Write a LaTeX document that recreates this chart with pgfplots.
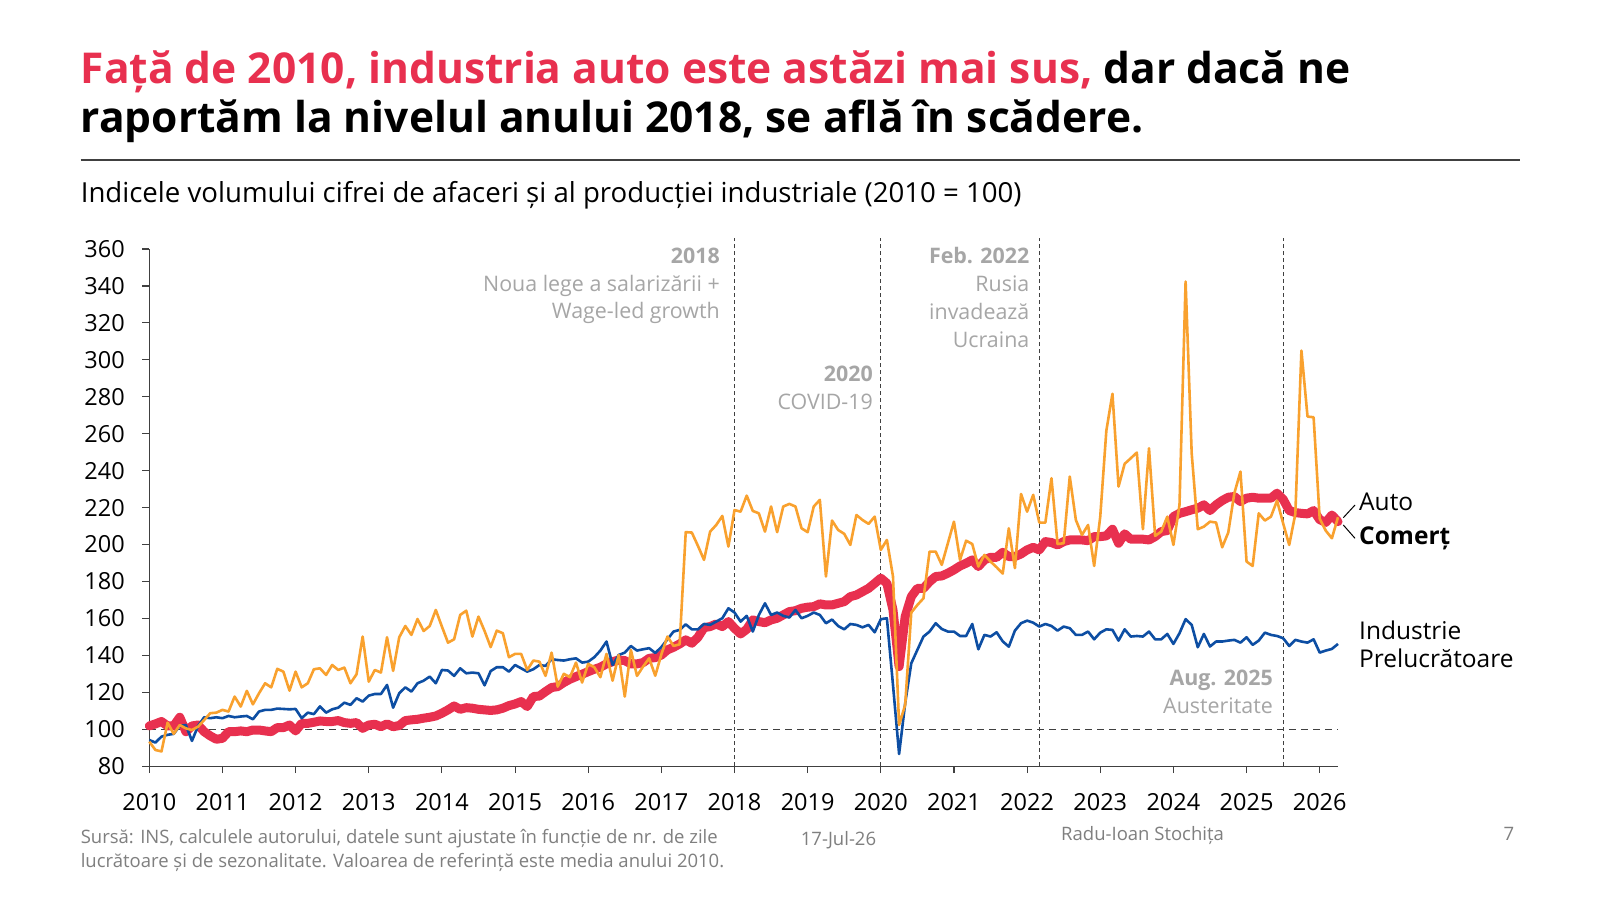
\documentclass[border=0pt]{standalone}
\usepackage{fontspec}
\setmainfont{Open Sans}
\usepackage{pgfplots}
\pgfplotsset{compat=1.18}
\usepackage{pgfplotstable}
\definecolor{cred}{HTML}{E8304F}
\definecolor{corange}{HTML}{F9A12E}
\definecolor{cblue}{HTML}{0D4EA3}
\definecolor{cgrey}{HTML}{A6A6A6}
\definecolor{cfoot}{HTML}{7F7F7F}
\definecolor{caxis}{HTML}{404040}
\newcommand{\fs}[1]{\fontsize{#1}{#1}\selectfont}

\pgfplotstableread{
m auto comert ind
0 93.3 101.8 94.2
1 88.8 102.9 92.8
2 88.0 104.2 96.0
3 103.6 101.8 97.0
4 97.5 101.8 97.5
5 102.3 106.5 101.8
6 100.5 98.7 102.3
7 99.6 101.8 93.7
8 101.4 102.3 101.8
9 105.0 98.7 106.5
10 108.7 96.4 106.0
11 109.0 94.6 106.5
12 110.5 95.1 106.0
13 109.6 98.7 107.2
14 117.7 98.7 106.5
15 112.3 99.1 106.9
16 120.8 98.7 107.2
17 113.5 99.6 105.4
18 119.5 99.6 109.6
19 124.9 99.1 110.5
20 122.7 98.7 110.5
21 132.7 100.9 111.2
22 131.2 100.9 111.0
23 120.9 102.3 110.8
24 131.2 99.1 111.0
25 122.7 103.2 106.0
26 124.9 103.2 109.0
27 132.5 103.8 108.2
28 133.0 104.5 112.4
29 129.4 104.2 109.0
30 134.8 104.2 110.8
31 132.1 104.7 111.7
32 133.4 103.6 114.4
33 124.9 103.2 113.2
34 129.8 103.6 116.8
35 150.2 100.5 115.0
36 125.8 102.3 118.2
37 132.1 102.7 119.1
38 130.7 101.4 119.1
39 149.8 102.9 124.0
40 131.6 101.4 111.7
41 149.8 102.0 119.5
42 155.9 104.7 122.7
43 151.1 105.1 120.4
44 159.7 105.4 124.9
45 153.2 106.0 126.3
46 155.9 106.5 128.5
47 164.6 107.2 124.9
48 155.6 108.7 132.1
49 146.9 110.5 131.8
50 148.7 112.6 128.9
51 161.9 110.8 133.0
52 164.2 111.7 130.3
53 150.2 111.4 130.7
54 161.0 110.8 130.3
55 153.2 110.5 123.8
56 144.5 110.2 131.5
57 153.4 110.5 133.6
58 152.0 111.4 133.6
59 139.0 112.8 131.2
60 140.8 113.7 134.8
61 140.8 115.0 133.0
62 132.1 112.3 131.2
63 137.2 117.7 132.5
64 136.6 118.0 134.8
65 128.9 120.4 134.3
66 141.5 122.6 137.9
67 123.1 123.1 137.5
68 130.0 125.3 137.2
69 128.2 127.1 137.9
70 136.1 128.5 138.4
71 125.3 129.8 136.1
72 135.4 131.2 136.6
73 133.6 132.5 139.0
74 128.2 133.6 142.6
75 140.8 135.4 147.5
76 126.3 136.6 134.8
77 140.2 137.5 140.2
78 117.7 137.2 141.5
79 143.0 135.4 145.1
80 128.9 135.4 142.6
81 133.9 136.1 143.3
82 138.4 138.4 143.9
83 129.0 138.8 141.3
84 140.5 140.2 144.5
85 150.2 143.0 148.7
86 145.1 144.4 152.9
87 146.0 146.2 153.8
88 206.7 148.4 156.8
89 206.5 146.6 154.1
90 199.3 149.8 154.1
91 191.7 155.0 157.0
92 207.0 155.6 156.5
93 210.6 157.0 158.3
94 215.5 155.6 160.1
95 198.9 158.3 165.5
96 218.7 154.7 163.2
97 217.8 151.6 158.3
98 226.5 154.1 161.4
99 218.2 159.2 152.9
100 216.9 158.3 161.9
101 207.0 157.7 168.2
102 220.6 159.2 161.9
103 206.7 160.1 163.2
104 220.6 161.9 161.4
105 222.0 163.7 160.5
106 220.6 164.2 164.6
107 208.8 165.5 160.1
108 206.7 166.1 161.4
109 220.6 166.4 163.2
110 224.2 167.9 161.9
111 182.7 167.3 157.4
112 213.0 167.3 159.4
113 207.9 168.2 155.9
114 205.8 169.1 154.1
115 199.8 171.8 157.0
116 216.0 172.7 156.5
117 213.3 174.5 155.2
118 211.2 176.3 156.5
119 215.1 179.0 152.5
120 197.1 181.8 159.6
121 202.5 179.0 160.1
122 182.7 164.6 124.0
123 102.3 133.9 86.6
124 113.2 161.0 114.1
125 163.2 171.8 135.7
126 167.3 176.3 143.0
127 170.9 176.3 150.2
128 196.2 179.9 152.9
129 196.2 182.7 157.4
130 189.0 183.0 154.3
131 200.7 184.5 152.9
132 212.4 186.3 152.9
133 191.7 188.4 150.5
134 202.1 189.9 150.5
135 200.3 191.7 157.0
136 188.1 188.1 143.3
137 194.4 191.7 151.1
138 190.8 193.1 150.2
139 187.7 193.1 152.5
140 184.3 195.8 147.6
141 208.8 193.5 144.7
142 187.2 193.5 153.4
143 227.4 194.9 157.4
144 217.8 197.1 158.8
145 226.9 198.5 157.7
146 211.9 197.1 155.6
147 211.9 201.6 157.0
148 235.9 201.1 155.9
149 200.3 199.8 153.4
150 200.7 201.6 155.6
151 236.8 202.5 154.7
152 213.3 202.5 151.1
153 205.2 202.5 151.1
154 210.6 202.1 152.9
155 188.4 204.3 148.7
156 215.1 204.3 152.3
157 261.7 204.7 154.1
158 281.6 208.3 153.8
159 231.4 200.7 148.0
160 243.7 205.8 154.1
161 246.7 202.9 150.2
162 249.8 202.9 150.5
163 208.3 202.9 150.2
164 252.1 202.5 152.9
165 204.7 204.3 148.7
166 207.0 207.0 148.7
167 215.1 207.6 151.6
168 199.8 215.1 146.2
169 221.5 216.9 152.0
170 342.4 217.8 159.6
171 249.4 218.8 156.5
172 208.3 219.7 144.4
173 209.7 221.5 151.6
174 212.4 218.4 144.8
175 211.9 221.5 147.5
176 198.5 223.8 147.5
177 206.5 225.6 148.0
178 227.8 226.0 148.4
179 239.5 223.3 146.9
180 190.8 225.1 149.8
181 188.4 225.6 145.7
182 216.9 225.1 148.0
183 213.0 225.1 152.3
184 215.1 225.1 151.1
185 223.8 227.8 150.5
186 211.5 224.5 149.3
187 199.8 218.4 145.1
188 216.6 217.3 148.4
189 305.0 216.9 147.5
190 269.3 216.6 146.9
191 268.9 218.4 148.7
192 214.0 213.5 141.5
193 207.5 212.0 142.6
194 203.4 216.0 143.5
195 214.8 212.4 146.2
}\datatab

\begin{document}
\begin{tikzpicture}
\path[use as bounding box, fill=white] (0pt,0pt) rectangle (1600pt,-900pt);

% title
\node[anchor=base west, inner sep=0pt, font=\bfseries\fs{42.5}] at (80.6pt,-83.7pt)
  {\textcolor{cred}{Față de 2010, industria auto este astăzi mai sus,} dar dacă ne};
\node[anchor=base west, inner sep=0pt, font=\bfseries\fs{42.5}] at (80.6pt,-132.6pt)
  {raportăm la nivelul anului 2018, se află în scădere.};
\draw[line width=1.3pt, caxis] (80.6pt,-160pt) -- (1520pt,-160pt);
\node[anchor=base west, inner sep=0pt, font=\fs{27.6}] at (80.6pt,-202pt)
  {Indicele volumului cifrei de afaceri și al producției industriale (2010 = 100)};

\begin{axis}[
  at={(149.3pt,-766.2pt)}, anchor=south west,
  scale only axis, width=1188.7pt, height=517.2pt,
  xmin=2010, xmax=2026.25, ymin=80, ymax=360,
  axis x line=bottom, axis y line=left,
  axis line style={-, draw=caxis, line width=1.3pt},
  tick style={draw=caxis, line width=1.1pt},
  tick align=outside, major tick length=7pt,
  xtick={2010,2011,2012,2013,2014,2015,2016,2017,2018,2019,2020,2021,2022,2023,2024,2025,2026},
  xticklabels={2010,2011,2012,2013,2014,2015,2016,2017,2018,2019,2020,2021,2022,2023,2024,2025,2026},
  ytick={80,100,...,360},
  ticklabel style={font=\fs{23.5}, text=black},
  yticklabel style={xshift=-14pt},
  xticklabel style={yshift=-17pt},
  /pgf/number format/assume math mode=true,
  clip=false,
]
\draw[caxis, line width=1.3pt, dash pattern=on 7pt off 5pt] (axis cs:2010,100) -- (axis cs:2026.25,100);
\draw[caxis, line width=1.1pt, dash pattern=on 4pt off 3pt] (axis cs:2018,80) -- (axis cs:2018,366);
\draw[caxis, line width=1.1pt, dash pattern=on 4pt off 3pt] (axis cs:2020,80) -- (axis cs:2020,366);
\draw[caxis, line width=1.1pt, dash pattern=on 4pt off 3pt] (axis cs:2022.175,80) -- (axis cs:2022.175,366);
\draw[caxis, line width=1.1pt, dash pattern=on 4pt off 3pt] (axis cs:2025.51,80) -- (axis cs:2025.51,366);

\addplot[cred, line width=9pt, line join=round, line cap=round] table[x expr=2010+\thisrow{m}/12, y=comert]{\datatab};
\addplot[cblue, line width=2.6pt, line join=round] table[x expr=2010+\thisrow{m}/12, y=ind]{\datatab};
\addplot[corange, line width=2.6pt, line join=round] table[x expr=2010+\thisrow{m}/12, y=auto]{\datatab};
\end{axis}

% event annotations
\begin{scope}[every node/.style={anchor=base east, inner sep=0pt, text=cgrey, font=\fs{21.4}}]
\node[font=\bfseries\fs{21.4}] at (720pt,-263pt) {2018};
\node at (720pt,-291pt) {Noua lege a salarizării +};
\node at (720pt,-318pt) {Wage-led growth};
\node[font=\bfseries\fs{21.4}] at (873pt,-381.5pt) {2020};
\node at (873pt,-409pt) {COVID-19};
\node[font=\bfseries\fs{21.4}] at (1029.5pt,-263pt) {Feb. 2022};
\node at (1029.5pt,-291pt) {Rusia};
\node at (1029.5pt,-319pt) {invadează};
\node at (1029.5pt,-347pt) {Ucraina};
\node[font=\bfseries\fs{21.4}] at (1273pt,-685.5pt) {Aug. 2025};
\node at (1273pt,-713pt) {Austeritate};
\end{scope}

% series labels
\node[anchor=base west, inner sep=0pt, font=\fs{24.5}] at (1359pt,-510pt) {Auto};
\node[anchor=base west, inner sep=0pt, font=\bfseries\fs{24.5}] at (1359pt,-544pt) {Comerț};
\draw[black, line width=1pt] (1343.3pt,-517.7pt) -- (1355pt,-505pt);
\draw[black, line width=1pt] (1343.3pt,-525pt) -- (1355pt,-538.3pt);
\node[anchor=base west, inner sep=0pt, font=\fs{24.5}] at (1359pt,-639pt) {Industrie};
\node[anchor=base west, inner sep=0pt, font=\fs{24.5}] at (1359pt,-667pt) {Prelucrătoare};

% footer
\begin{scope}[every node/.style={inner sep=0pt, text=cfoot, font=\fs{18.5}}]
\node[anchor=base west] at (80.6pt,-843.5pt) {Sursă: INS, calculele autorului, datele sunt ajustate în funcție de nr. de zile};
\node[anchor=base west] at (80.6pt,-867pt) {lucrătoare și de sezonalitate. Valoarea de referință este media anului 2010.};
\node[anchor=base] at (838.5pt,-845pt) {17-Jul-26};
\node[anchor=base west] at (1061pt,-840pt) {Radu-Ioan Stochița};
\node[anchor=base] at (1509pt,-840pt) {7};
\end{scope}
\end{tikzpicture}
\end{document}
